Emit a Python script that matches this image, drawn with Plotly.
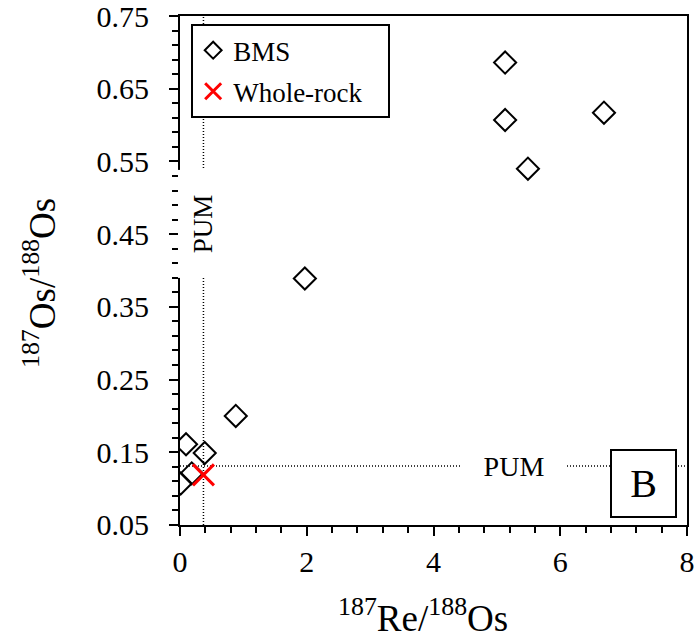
import plotly.graph_objects as go

# ---- data ----
bms_re = [5.13, 5.13, 5.49, 6.69, 1.97, 0.88, 0.095, 0.39, 0.185, 0.01]
bms_os = [0.686, 0.607, 0.540, 0.617, 0.389, 0.200, 0.161, 0.149, 0.121, 0.107]
wr_re = [0.37]
wr_os = [0.119]
pum_re = 0.37      # PUM 187Re/188Os (vertical reference line)
pum_os = 0.131     # PUM 187Os/188Os (horizontal reference line)

x_tickvals = [0, 2, 4, 6, 8]
y_tickvals = [0.05, 0.15, 0.25, 0.35, 0.45, 0.55, 0.65, 0.75]
y_ticktext = ["0.05", "0.15", "0.25", "0.35", "0.45", "0.55", "0.65", "0.75"]
legend_names = ["BMS", "Whole-rock"]
x_title = "<sup>187</sup>Re/<sup>188</sup>Os"
y_title = "<sup>187</sup>Os/<sup>188</sup>Os"
panel_label = "B"
pum_text = "PUM"

FONT = "Liberation Serif"
PAD = "\u00a0\u00a0\u00a0"

fig = go.Figure()

# data traces
fig.add_trace(go.Scatter(
    x=bms_re, y=bms_os, mode="markers", name=legend_names[0], showlegend=False,
    marker=dict(symbol="diamond-open", size=17, color="black", line=dict(width=2, color="black")),
))
fig.add_trace(go.Scatter(
    x=wr_re, y=wr_os, mode="markers", name=legend_names[1], showlegend=False,
    marker=dict(symbol="x-thin", size=21, color="red", line=dict(width=3, color="red")),
))
# legend-only entries (smaller symbols, as in the reference legend)
fig.add_trace(go.Scatter(
    x=[None], y=[None], mode="markers", name=legend_names[0] + PAD, legendgroup="a",
    marker=dict(symbol="diamond-open", size=13, color="black", line=dict(width=2, color="black")),
))
fig.add_trace(go.Scatter(
    x=[None], y=[None], mode="markers", name=legend_names[1] + PAD, legendgroup="b",
    marker=dict(symbol="x-thin", size=16, color="red", line=dict(width=3, color="red")),
))

# PUM reference lines
fig.add_shape(type="line", xref="x", yref="paper", x0=pum_re, x1=pum_re, y0=0, y1=1,
              line=dict(color="black", width=1.5, dash="1px,2px"), layer="below")
fig.add_shape(type="line", xref="paper", yref="y", x0=0, x1=1, y0=pum_os, y1=pum_os,
              line=dict(color="black", width=1.5, dash="1px,2px"), layer="below")

# PUM labels with white boxes
fig.add_annotation(x=pum_re, y=0.464, xref="x", yref="y", text=pum_text, textangle=-90,
                   xanchor="center", yanchor="middle",
                   showarrow=False, bgcolor="white", width=105, height=48,
                   font=dict(family=FONT, size=27, color="black"))
fig.add_annotation(x=5.27, y=pum_os, xref="x", yref="y", text=pum_text,
                   xanchor="center", yanchor="middle",
                   showarrow=False, bgcolor="white", width=102, height=30,
                   font=dict(family=FONT, size=28, color="black"))
# panel label
fig.add_annotation(x=0.914, y=0.0815, xref="paper", yref="paper", text=panel_label,
                   xanchor="center", yanchor="middle",
                   showarrow=False, bgcolor="white", bordercolor="black", borderwidth=2,
                   borderpad=0, width=63, height=65,
                   font=dict(family=FONT, size=40, color="black"))

# axis titles
fig.add_annotation(x=0.479, y=-0.177, xref="paper", yref="paper", text=x_title,
                   xanchor="center", yanchor="middle", showarrow=False,
                   font=dict(family=FONT, size=37, color="black"))
fig.add_annotation(x=-0.276, y=0.4755, xref="paper", yref="paper", text=y_title,
                   textangle=-90, xanchor="center", yanchor="middle", showarrow=False,
                   font=dict(family=FONT, size=37, color="black"))

axis_common = dict(
    showgrid=False, zeroline=False, showline=True, linecolor="black", linewidth=2,
    mirror=True, ticks="outside", ticklen=9, tickwidth=2, tickcolor="black",
    tickfont=dict(family=FONT, size=30, color="black"), ticklabeloverflow="allow",
)

fig.update_xaxes(
    range=[-0.0001, 8.0001], tickvals=x_tickvals, ticklabelstandoff=0,
    minor=dict(dtick=0.4, tick0=0, ticks="outside", ticklen=6, tickwidth=2, tickcolor="black"),
    **axis_common,
)
fig.update_yaxes(
    range=[0.04999, 0.75001], tickvals=y_tickvals, ticktext=y_ticktext, ticklabelstandoff=14,
    minor=dict(dtick=0.02, tick0=0.05, ticks="outside", ticklen=6, tickwidth=2, tickcolor="black"),
    **axis_common,
)

fig.update_layout(
    width=697, height=640,
    margin=dict(l=180, r=10, t=16, b=115, autoexpand=False),
    paper_bgcolor="white", plot_bgcolor="white",
    font=dict(family=FONT, color="black"),
    showlegend=True,
    legend=dict(
        x=0.022, y=0.984, xanchor="left", yanchor="top",
        bgcolor="white", bordercolor="black", borderwidth=2,
        font=dict(family=FONT, size=27, color="black"),
        tracegroupgap=3, itemsizing="trace",
    ),
)

fig.write_html("out.html")
